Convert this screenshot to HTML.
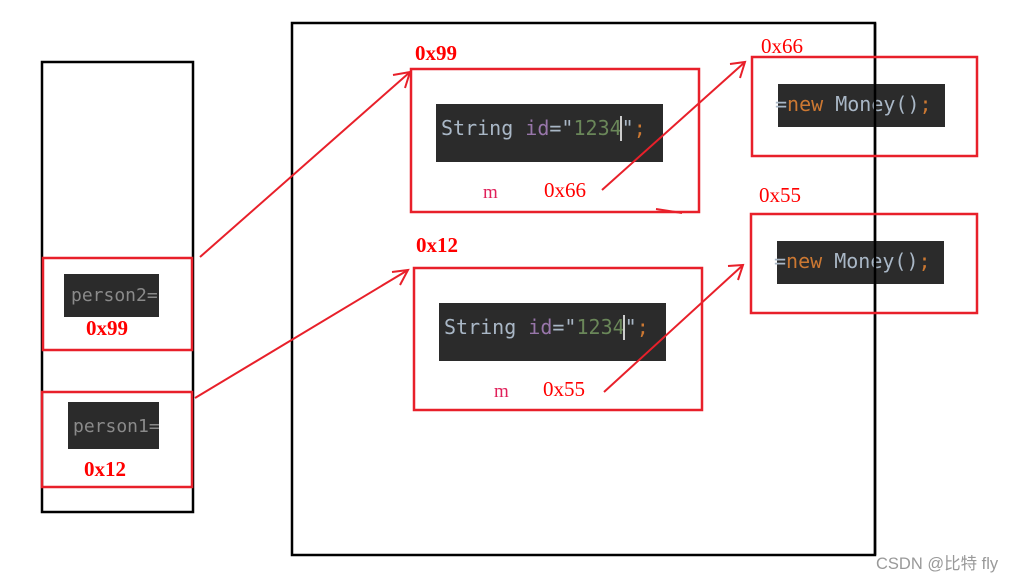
<!DOCTYPE html>
<html><head><meta charset="utf-8"><style>
body{margin:0;background:#fff;width:1028px;height:582px;overflow:hidden}
</style></head><body>
<svg width="1028" height="582" xmlns="http://www.w3.org/2000/svg">
<rect width="1028" height="582" fill="#fff"/>
<rect x="42" y="62" width="151" height="450" fill="none" stroke="#000" stroke-width="2.5"/>
<rect x="292" y="23" width="583" height="532" fill="none" stroke="#000" stroke-width="2.5"/>
<!-- stack -->
<rect x="64" y="274" width="95" height="43" fill="#2b2b2b"/>
<text x="71" y="301" font-family="DejaVu Sans Mono, monospace" font-size="18" fill="#8a8a8a">person2=</text>
<rect x="68" y="402" width="91" height="47" fill="#2b2b2b"/>
<text x="73" y="432" font-family="DejaVu Sans Mono, monospace" font-size="18" fill="#8a8a8a">person1=</text>
<rect x="160" y="270" width="30" height="50" fill="#fff"/>
<rect x="160" y="400" width="30" height="52" fill="#fff"/>
<rect x="43" y="258" width="149" height="92" fill="none" stroke="#e8202a" stroke-width="2.5"/>
<rect x="42" y="392" width="150" height="95" fill="none" stroke="#e8202a" stroke-width="2.5"/>
<text x="86" y="335" font-family="Liberation Serif, serif" font-weight="bold" font-size="21" fill="#f00">0x99</text>
<text x="84" y="476" font-family="Liberation Serif, serif" font-weight="bold" font-size="21" fill="#f00">0x12</text>
<!-- heap objects -->
<g font-family="DejaVu Sans Mono, monospace" font-size="20">
<rect x="436" y="104" width="227" height="58" fill="#2b2b2b"/>
<text x="441" y="135"><tspan fill="#a9b7c6">String </tspan><tspan fill="#9876aa">id</tspan><tspan fill="#a9b7c6">="</tspan><tspan fill="#6a8759">1234</tspan><tspan fill="#a9b7c6">"</tspan><tspan fill="#cc7832">;</tspan></text>
<rect x="620" y="116" width="2" height="25" fill="#ccc"/>
<rect x="439" y="303" width="227" height="58" fill="#2b2b2b"/>
<text x="444" y="334"><tspan fill="#a9b7c6">String </tspan><tspan fill="#9876aa">id</tspan><tspan fill="#a9b7c6">="</tspan><tspan fill="#6a8759">1234</tspan><tspan fill="#a9b7c6">"</tspan><tspan fill="#cc7832">;</tspan></text>
<rect x="623" y="315" width="2" height="25" fill="#ccc"/>
<rect x="778" y="84" width="167" height="43" fill="#2b2b2b"/>
<text x="775" y="111"><tspan fill="#a9b7c6">=</tspan><tspan fill="#cc7832">new </tspan><tspan fill="#a9b7c6">Money()</tspan><tspan fill="#cc7832">;</tspan></text>
<rect x="777" y="241" width="167" height="43" fill="#2b2b2b"/>
<text x="774" y="268"><tspan fill="#a9b7c6">=</tspan><tspan fill="#cc7832">new </tspan><tspan fill="#a9b7c6">Money()</tspan><tspan fill="#cc7832">;</tspan></text>
</g>
<line x1="875" y1="23" x2="875" y2="555" stroke="#000" stroke-width="2.5"/>
<g fill="none" stroke="#e8202a" stroke-width="2.5">
<rect x="411" y="69" width="288" height="143"/>
<rect x="414" y="268" width="288" height="142"/>
<rect x="752" y="57" width="225" height="99"/>
<rect x="751" y="214" width="226" height="99"/>
</g>
<g font-family="Liberation Serif, serif" fill="#f00">
<text x="415" y="60" font-size="21" font-weight="bold">0x99</text>
<text x="416" y="252" font-size="21" font-weight="bold">0x12</text>
<text x="483" y="198" font-size="19" fill="#e0205a">m</text>
<text x="544" y="197" font-size="21">0x66</text>
<text x="494" y="397" font-size="19" fill="#e0205a">m</text>
<text x="543" y="396" font-size="21">0x55</text>
<text x="761" y="53" font-size="21">0x66</text>
<text x="759" y="202" font-size="21">0x55</text>
</g>
<g stroke="#e8202a" stroke-width="2" fill="none">
<line x1="200" y1="257" x2="410" y2="72"/><polyline points="393,75 410,72 405,88"/>
<line x1="195" y1="398" x2="408" y2="270"/><polyline points="392,272 408,270 400,285"/>
<line x1="602" y1="190" x2="745" y2="62"/><polyline points="730,64 745,62 740,78"/>
<line x1="604" y1="392" x2="743" y2="265"/><polyline points="728,266 743,265 738,280"/>
<line x1="656" y1="209" x2="682" y2="213"/>
</g>
<text x="876" y="569" font-family="Liberation Sans, Noto Sans CJK SC, sans-serif" font-size="16.5" fill="#999">CSDN @比特 fly</text>
</svg>
</body></html>
